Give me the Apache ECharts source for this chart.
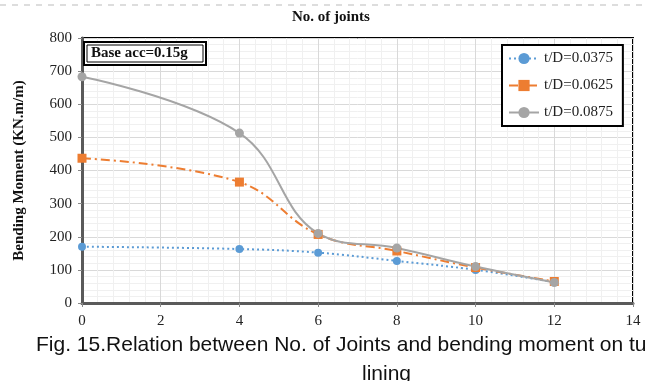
<!DOCTYPE html>
<html lang="en">
<head>
<meta charset="utf-8" />
<script src="https://cdn.jsdelivr.net/npm/echarts@6/dist/echarts.min.js"></script>
<style>
  html, body { margin: 0; padding: 0; background: #fff; }
  #main { width: 647px; height: 381px; }
</style>
</head>
<body>
<div id="main"></div>
<script>
// number of joints on the x axis
var joints = [0, 4, 6, 8, 10, 12];
var names = ['t/D=0.0375', 't/D=0.0625', 't/D=0.0875'];
var moment0375 = [170, 163, 152, 127, 100, 63];
var moment0625 = [437, 365, 207, 157, 107, 65];
var moment0875 = [683, 513, 210, 166, 110, 62];

function pairs(vals) {
  return joints.map(function (x, i) { return [x, vals[i]]; });
}

var serif = '"Liberation Serif", "Times New Roman", serif';
var sans = '"Liberation Sans", Arial, sans-serif';
var chart = echarts.init(document.getElementById('main'));

chart.setOption({
  animation: false,
  backgroundColor: '#fff',
  grid: { left: 82, top: 38, right: 14, bottom: 78, show: true, borderColor: '#000', borderWidth: 2 },
  xAxis: {
    type: 'value', min: 0, max: 14, interval: 2,
    axisLine: { lineStyle: { color: '#5a5a5a', width: 3 } },
    axisTick: { show: true, length: 4, lineStyle: { color: '#888' } },
    axisLabel: { fontFamily: serif, fontSize: 15, color: '#222', margin: 11 },
    splitLine: { lineStyle: { color: '#d9d9d9' } },
    minorTick: { show: false, splitNumber: 5 },
    minorSplitLine: { show: true, lineStyle: { color: '#f0f0f0' } }
  },
  yAxis: {
    type: 'value', min: 0, max: 800, interval: 100,
    name: 'Bending Moment (KN.m/m)', nameLocation: 'middle', nameGap: 55,
    nameTextStyle: { fontFamily: serif, fontSize: 15, fontWeight: 'bold', color: '#111' },
    axisLine: { show: true, lineStyle: { color: '#5a5a5a', width: 3 } },
    axisTick: { show: true, length: 4, lineStyle: { color: '#888' } },
    axisLabel: { fontFamily: serif, fontSize: 15, color: '#222', margin: 10 },
    splitLine: { lineStyle: { color: '#d9d9d9' } },
    minorTick: { show: false, splitNumber: 5 },
    minorSplitLine: { show: true, lineStyle: { color: '#f0f0f0' } }
  },
  legend: {
    orient: 'vertical', left: 502, top: 45,
    borderColor: '#000', borderWidth: 2, backgroundColor: '#fff',
    padding: [6, 10, 6, 6], itemWidth: 30, itemHeight: 14, itemGap: 12,
    textStyle: { fontFamily: serif, fontSize: 15, color: '#222' },
    data: names
  },
  series: [
    {
      name: names[0], type: 'line', data: pairs(moment0375), smooth: 0.4,
      symbol: 'circle', symbolSize: 8,
      itemStyle: { color: '#5b9bd5' },
      lineStyle: { color: '#5b9bd5', width: 2, type: [2, 3] }
    },
    {
      name: names[1], type: 'line', data: pairs(moment0625), smooth: 0.4,
      symbol: 'rect', symbolSize: 9,
      itemStyle: { color: '#ed7d31' },
      lineStyle: { color: '#ed7d31', width: 2, type: [9, 4, 2, 4] }
    },
    {
      name: names[2], type: 'line', data: pairs(moment0875), smooth: 0.4,
      symbol: 'circle', symbolSize: 9,
      itemStyle: { color: '#a5a5a5' },
      lineStyle: { color: '#a5a5a5', width: 2 }
    }
  ],
  graphic: [
    { type: 'line', shape: { x1: 0, y1: 5, x2: 647, y2: 5 }, style: { stroke: '#bbb', lineWidth: 1, lineDash: [6, 6] } },
    { type: 'text', left: 292, top: 10, style: { text: 'No. of joints', font: 'bold 15px ' + serif, fill: '#111' } },
    { type: 'rect', shape: { x: 84, y: 42, width: 122, height: 23 }, style: { fill: '#fff', stroke: '#000', lineWidth: 2 }, z: 10 },
    { type: 'rect', shape: { x: 87, y: 45, width: 116, height: 17 }, style: { fill: 'none', stroke: '#000', lineWidth: 1 }, z: 10 },
    { type: 'text', x: 91, y: 46, style: { text: 'Base acc=0.15g', font: 'bold 15px ' + serif, fill: '#111' }, z: 11 },
    { type: 'text', x: 36, y: 335, style: { text: 'Fig. 15.Relation between No. of Joints and bending moment on tunnel', font: '21px ' + sans, fill: '#111' } },
    { type: 'text', x: 362, y: 364, style: { text: 'lining', font: '21px ' + sans, fill: '#111' } }
  ]
});
</script>
</body>
</html>
